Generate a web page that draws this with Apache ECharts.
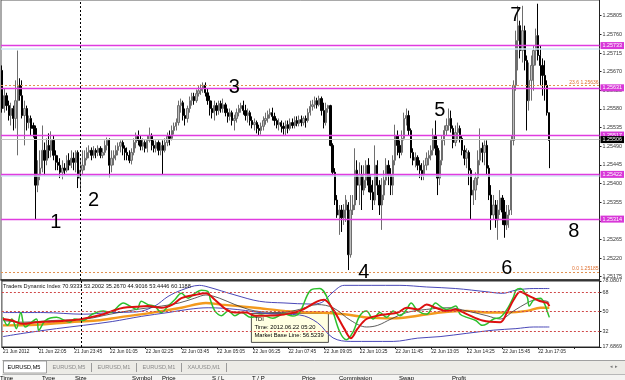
<!DOCTYPE html>
<html>
<head>
<meta charset="utf-8">
<script src="https://cdn.jsdelivr.net/npm/echarts@6/dist/echarts.min.js"></script>
<style>
  html, body { margin: 0; padding: 0; background: #fff; }
  #chart { width: 625px; height: 380px; }
</style>
</head>
<body>
<div id="chart"></div>
<script>
// EURUSD M5 bars, prices in points (1 point = 0.00001): [open, high, low, close]
var ohlc = [
  [125673,125685,125571,125581],[125581,125630,125571,125612],[125612,125619,125576,125588],[125588,125600,125552,125564],
  [125564,125595,125540,125581],[125581,125588,125528,125557],[125557,125649,125533,125600],[125600,125721,125468,125637],
  [125637,125654,125600,125612],[125612,125649,125557,125564],[125564,125600,125492,125581],[125581,125588,125528,125547],
  [125547,125564,125533,125557],[125557,125564,125516,125533],[125540,125547,125511,125533],[125533,125540,125312,125396],
  [125396,125456,125379,125420],[125420,125480,125408,125437],[125437,125540,125427,125480],[125480,125499,125420,125456],
  [125456,125509,125444,125492],[125492,125521,125461,125480],[125480,125526,125463,125504],[125504,125516,125456,125468],
  [125468,125480,125432,125451],[125451,125468,125432,125444],[125444,125461,125413,125427],[125427,125456,125410,125437],
  [125437,125449,125420,125432],[125432,125468,125427,125456],[125456,125473,125432,125444],[125444,125480,125437,125461],
  [125461,125475,125432,125451],[125451,125480,125427,125475],[125475,125480,125389,125413],[125413,125461,125384,125432],
  [125432,125480,125420,125444],[125444,125480,125432,125461],[125461,125487,125456,125475],[125475,125492,125461,125480],
  [125480,125487,125456,125468],[125468,125490,125461,125480],[125480,125485,125461,125475],[125475,125492,125466,125485],
  [125485,125490,125461,125468],[125468,125485,125461,125475],[125475,125504,125468,125492],[125492,125511,125480,125504],
  [125504,125509,125415,125444],[125444,125480,125427,125461],[125461,125480,125444,125468],[125468,125492,125456,125480],
  [125480,125499,125468,125490],[125490,125504,125475,125499],[125499,125504,125468,125485],[125485,125492,125456,125475],
  [125475,125487,125456,125468],[125468,125480,125449,125456],[125456,125485,125446,125475],[125475,125509,125468,125499],
  [125499,125523,125485,125514],[125514,125528,125492,125504],[125504,125516,125480,125490],[125490,125509,125480,125499],
  [125499,125504,125475,125485],[125485,125516,125475,125504],[125504,125535,125499,125516],[125516,125521,125480,125492],
  [125492,125504,125475,125485],[125485,125504,125475,125499],[125499,125504,125468,125480],[125480,125499,125468,125492],
  [125492,125504,125422,125480],[125480,125509,125475,125499],[125499,125523,125490,125514],[125514,125528,125492,125509],
  [125509,125540,125504,125528],[125528,125547,125518,125538],[125538,125557,125528,125547],[125547,125600,125540,125588],
  [125588,125605,125571,125595],[125595,125600,125552,125564],[125564,125581,125540,125557],[125557,125588,125547,125581],
  [125581,125610,125571,125600],[125600,125619,125588,125610],[125610,125619,125590,125600],[125600,125627,125595,125617],
  [125617,125635,125610,125624],[125624,125639,125614,125630],[125630,125644,125619,125637],[125637,125644,125610,125619],
  [125619,125630,125590,125600],[125600,125612,125564,125581],[125581,125600,125557,125571],[125571,125600,125552,125588],
  [125588,125595,125564,125576],[125576,125600,125566,125593],[125593,125600,125571,125581],[125581,125605,125571,125590],
  [125590,125595,125562,125571],[125571,125581,125547,125562],[125562,125581,125552,125571],[125571,125576,125540,125552],
  [125552,125566,125528,125557],[125557,125581,125547,125571],[125571,125590,125562,125581],[125581,125595,125571,125588],
  [125588,125600,125566,125576],[125576,125590,125552,125564],[125564,125581,125547,125571],[125571,125576,125540,125552],
  [125552,125562,125533,125542],[125542,125557,125528,125547],[125547,125552,125521,125533],[125533,125542,125516,125528],
  [125528,125547,125518,125538],[125538,125562,125528,125552],[125552,125571,125542,125557],[125557,125576,125547,125566],
  [125566,125581,125557,125571],[125571,125583,125552,125562],[125562,125571,125540,125552],[125552,125557,125533,125542],
  [125542,125557,125528,125547],[125547,125552,125523,125538],[125538,125547,125518,125533],[125533,125552,125516,125542],
  [125542,125552,125521,125533],[125533,125557,125528,125547],[125547,125557,125533,125540],[125540,125562,125533,125552],
  [125552,125562,125538,125545],[125545,125564,125538,125554],[125554,125564,125538,125547],[125547,125562,125540,125557],
  [125557,125564,125535,125552],[125552,125581,125547,125571],[125571,125600,125564,125586],[125586,125602,125576,125590],
  [125590,125610,125581,125600],[125600,125607,125581,125590],[125590,125612,125586,125605],[125605,125610,125564,125576],
  [125576,125595,125533,125547],[125547,125595,125540,125581],[125581,125590,125571,125588],[125588,125590,125490,125492],
  [125492,125497,125420,125427],[125427,125437,125348,125360],[125360,125372,125317,125324],[125324,125348,125276,125336],
  [125336,125348,125283,125317],[125317,125350,125300,125336],[125336,125372,125307,125360],[125348,125355,125191,125228],
  [125228,125372,125221,125336],[125336,125372,125324,125348],[125348,125485,125336,125432],[125432,125456,125360,125396],
  [125396,125451,125348,125420],[125420,125444,125336,125384],[125384,125444,125372,125408],[125408,125456,125389,125444],
  [125444,125461,125379,125396],[125396,125420,125360,125379],[125379,125408,125336,125360],[125360,125492,125348,125444],
  [125444,125456,125372,125396],[125396,125408,125324,125348],[125348,125413,125288,125372],[125372,125432,125360,125408],
  [125408,125461,125396,125444],[125444,125456,125396,125420],[125420,125437,125372,125396],[125396,125468,125372,125456],
  [125456,125542,125444,125516],[125516,125528,125468,125492],[125492,125504,125461,125475],[125475,125528,125468,125509],
  [125509,125571,125504,125557],[125557,125581,125540,125564],[125564,125576,125516,125528],[125528,125533,125461,125475],
  [125475,125485,125444,125456],[125456,125475,125439,125463],[125463,125468,125432,125444],[125444,125456,125413,125432],
  [125432,125449,125408,125420],[125420,125456,125408,125444],[125444,125475,125432,125461],[125461,125480,125444,125468],
  [125468,125492,125456,125480],[125480,125533,125468,125516],[125516,125552,125468,125485],[125485,125492,125372,125413],
  [125413,125480,125396,125456],[125456,125516,125444,125504],[125504,125540,125492,125528],[125528,125557,125516,125540],
  [125540,125581,125528,125557],[125557,125576,125523,125533],[125533,125540,125485,125499],[125499,125540,125490,125523],
  [125523,125547,125504,125533],[125533,125540,125499,125509],[125509,125516,125468,125480],[125480,125492,125444,125461],
  [125461,125485,125437,125475],[125475,125480,125396,125432],[125432,125437,125312,125372],[125372,125408,125348,125384],
  [125384,125427,125360,125413],[125413,125480,125396,125456],[125456,125533,125444,125485],[125485,125499,125451,125475],
  [125475,125504,125444,125492],[125492,125504,125420,125437],[125437,125444,125360,125372],[125372,125396,125288,125324],
  [125324,125372,125312,125348],[125348,125360,125293,125312],[125312,125360,125264,125336],[125336,125384,125324,125365],
  [125365,125372,125300,125331],[125331,125360,125269,125300],[125300,125348,125288,125324],[125324,125348,125293,125336],
  [125336,125516,125324,125504],[125504,125649,125492,125637],[125637,125769,125624,125745],[125745,125829,125673,125781],
  [125781,125793,125702,125721],[125721,125829,125692,125769],[125769,125781,125673,125697],[125697,125709,125528,125600],
  [125600,125692,125576,125649],[125649,125709,125600,125685],[125685,125733,125624,125721],[125721,125774,125685,125757],
  [125757,125834,125697,125709],[125709,125733,125637,125685],[125685,125702,125612,125661],[125661,125697,125600,125637],
  [125637,125649,125564,125571],[125571,125571,125437,125504]
];
var barSlots = 268;

var timeLabels = ['21 Jun 2012', '21 Jun 22:05', '21 Jun 23:45', '22 Jun 01:05', '22 Jun 02:25', '22 Jun 03:45',
  '22 Jun 05:05', '22 Jun 06:25', '22 Jun 07:45', '22 Jun 09:05', '22 Jun 10:25', '22 Jun 11:45',
  '22 Jun 13:05', '22 Jun 14:25', '22 Jun 15:45', '22 Jun 17:05'];
var priceTicks = [125805, 125760, 125715, 125670, 125625, 125580, 125535, 125490, 125445, 125400,
  125355, 125310, 125265, 125220, 125175];
var levelLines = [125733, 125631, 125517, 125422, 125314];
var blueLines = [125726, 125418];
var fibLines = [[125636, '23.6 1.25636'], [125185, '0.0 1.25185']];
var bidPrice = 125506;
var daySeparator = 35;
var waveMarks = [['1', 24, 125307], ['2', 41, 125360], ['3', 104, 125632], ['4', 162, 125184],
  ['5', 196, 125576], ['6', 226, 125196], ['7', 230, 125805], ['8', 256, 125283]];

// Traders Dynamic Index, [bar, value]
var tdiGreen = [[0,44.8],[2,37.5],[4,43.3],[6,34.5],[8,49.2],[10,36.0],[15,43.3],[16,33.1],[19,41.9],[24,44.8],
  [30,40.4],[32,43.3],[36,41.9],[40,47.7],[45,50.7],[48,49.2],[54,58.0],[57,55.1],[60,52.1],[62,59.5],[65,56.5],
  [68,55.1],[71,49.2],[74,55.1],[77,60.9],[80,66.8],[83,62.4],[86,66.8],[89,69.7],[92,68.2],[93,60.9],[95,50.7],
  [98,46.3],[101,50.7],[104,46.3],[107,49.2],[111,44.8],[116,47.0],[121,44.0],[126,48.0],[130,46.0],[133,49.2],
  [138,69.7],[142,71.2],[147,55.1],[151,31.6],[154,24.3],[157,31.6],[160,46.3],[163,50.7],[166,43.3],[169,49.2],
  [172,44.8],[175,50.7],[178,46.3],[181,52.1],[183,58.0],[186,50.7],[190,47.7],[194,58.0],[196,55.1],[199,52.1],
  [203,55.1],[205,47.7],[208,44.8],[212,41.9],[215,37.5],[217,38.9],[220,43.3],[223,44.8],[226,52.1],[229,63.9],
  [230,69.7],[232,71.2],[235,63.9],[236,55.1],[238,60.9],[241,62.4],[243,56.5],[244,50.7],[245,44.8]];
var tdiRed = [[0,43.3],[4,41.9],[9,38.9],[15,40.4],[22,41.0],[33,42.7],[39,44.8],[45,47.7],[49,50.7],[54,53.6],
  [60,54.5],[65,55.1],[71,53.6],[76,56.5],[80,62.4],[86,65.3],[91,66.8],[95,60.9],[100,52.1],[104,49.2],[109,49.2],
  [113,46.3],[120,46.5],[126,47.5],[133,50.7],[141,59.5],[144,60.9],[148,52.1],[153,34.5],[156,25.8],[159,34.5],
  [163,43.3],[168,46.3],[172,47.7],[177,49.2],[181,53.6],[186,52.1],[190,56.5],[194,53.6],[199,50.7],[203,52.1],
  [208,47.7],[215,41.9],[223,40.4],[226,49.2],[229,60.9],[232,68.2],[235,65.3],[238,62.4],[241,59.5],[244,58.0],[245,55.1]];
var tdiSignal = [[0,41.9],[9,40.4],[22,41.9],[37,43.3],[48,47.7],[60,52.1],[71,55.1],[79,58.0],[86,62.4],[91,65.3],
  [97,62.4],[104,56.5],[113,50.7],[125,49.2],[133,52.1],[141,56.5],[148,53.6],[156,41.9],[163,36.0],[168,37.5],
  [174,43.3],[181,49.2],[190,52.1],[200,53.6],[208,50.7],[217,46.3],[223,43.3],[229,50.7],[235,58.0],[239,60.9],
  [244,59.5],[245,58.0]];
var tdiBase = [[0,37.5],[15,38.1],[30,40.4],[42,41.9],[52,44.8],[67,49.2],[80,53.6],[91,58.0],[98,56.5],[113,53.6],
  [126,50.7],[138,49.2],[141,49.2],[153,47.7],[163,44.8],[175,43.9],[186,46.3],[196,49.2],[208,50.7],[217,49.2],
  [226,49.2],[235,50.7],[241,53.6],[245,53.6]];
var tdiUpper = [[0,49.2],[18,49.2],[36,47.7],[48,49.2],[60,49.8],[68,55.1],[74,63.9],[80,69.7],[88,74.1],[92,72.6],
  [104,65.3],[115,59.5],[126,58.0],[138,57.0],[143,58.5],[148,68.0],[153,74.1],[178,74.1],[190,72.6],[203,71.2],
  [217,68.2],[224,66.8],[230,69.7],[238,71.2],[245,71.2]];
var tdiLower = [[0,27.2],[9,30.2],[24,34.5],[36,37.5],[49,41.0],[62,45.7],[74,49.2],[83,52.1],[92,53.6],[105,52.0],
  [120,48.0],[133,47.0],[141,40.0],[148,26.0],[156,22.8],[175,22.8],[186,25.8],[196,27.2],[208,30.2],[220,33.1],
  [230,34.5],[238,36.0],[245,36.0]];
var tdiLevels = [68, 50, 32];
var tdiTicks = [78.0807, 68, 50, 32, 17.6869];
var tdiTitle = 'Traders Dynamic Index 70.9333 53.2002 35.2670 44.9016 53.4446 60.1188';

var FONT = 'Liberation Sans';
var pt = function (v) { return v / 100000; };
var slots = [];
for (var i = 0; i < barSlots; i++) slots.push(String(i));

// echarts candlestick wants [open, close, low, high]
var candles = ohlc.map(function (r) { return [pt(r[0]), pt(r[3]), pt(r[2]), pt(r[1])]; });

function boxLabel(text, bg) {
  return { show: true, position: 'end', distance: 1, formatter: text, color: '#fff',
    backgroundColor: bg, padding: [1, 2], fontSize: 5.4, fontFamily: FONT };
}

// one empty helper series per kind of chart object, so every object group keeps its own colour
function objectSeries(name, items, lineStyle, z) {
  return {
    name: name, type: 'line', xAxisIndex: 0, yAxisIndex: 0, data: [], silent: true, z: z,
    markLine: { symbol: 'none', silent: true, animation: false, precision: 6,
      lineStyle: lineStyle, label: { show: false }, data: items }
  };
}

var chart = echarts.init(document.getElementById('chart'), null, { renderer: 'canvas' });

function tdiLine(name, data, color, width, extra) {
  var s = {
    name: name, type: 'line', xAxisIndex: 1, yAxisIndex: 1, data: data, showSymbol: false,
    smooth: 0.35, lineStyle: { color: color, width: width }, silent: true, animation: false, z: 3
  };
  for (var k in extra) s[k] = extra[k];
  return s;
}

chart.setOption({
  animation: false,
  backgroundColor: '#fff',
  textStyle: { fontFamily: FONT },
  grid: [
    { left: 1, right: 24, top: -1, height: 281, show: true, borderColor: '#555', borderWidth: 1 },
    { left: 1, right: 24, top: 281, height: 66, show: true, borderColor: '#333', borderWidth: 1 }
  ],
  xAxis: [
    { type: 'category', gridIndex: 0, data: slots, boundaryGap: true,
      axisLine: { show: true, lineStyle: { color: '#222', width: 1.5 } },
      axisTick: { show: false }, axisLabel: { show: false }, splitLine: { show: false } },
    { type: 'category', gridIndex: 1, data: slots, boundaryGap: true,
      axisLine: { show: true, lineStyle: { color: '#222' } },
      axisTick: { show: true, interval: 15, alignWithLabel: true, length: 2, lineStyle: { color: '#222' } },
      axisLabel: { show: true, interval: 15, align: 'left', margin: 2, fontSize: 4.8, color: '#222',
        fontFamily: FONT, formatter: function (v, idx) { return timeLabels[idx / 16] || ''; } },
      splitLine: { show: false } }
  ],
  yAxis: [
    { type: 'value', gridIndex: 0, position: 'right', min: 1.25167, max: 1.25843, scale: true,
      axisLine: { show: true, lineStyle: { color: '#222' } },
      axisTick: { show: true, length: 2, customValues: priceTicks.map(pt), lineStyle: { color: '#222' } },
      axisLabel: { show: true, customValues: priceTicks.map(pt), margin: 3, fontSize: 5.4, color: '#333',
        fontFamily: FONT, formatter: function (v) { return v.toFixed(5); } },
      splitLine: { show: false } },
    { type: 'value', gridIndex: 1, position: 'right', min: 17.6869, max: 78.0807,
      axisLine: { show: true, lineStyle: { color: '#222' } },
      axisTick: { show: true, length: 2, customValues: tdiTicks, lineStyle: { color: '#222' } },
      axisLabel: { show: true, customValues: tdiTicks, margin: 3, fontSize: 5.4, color: '#333', fontFamily: FONT,
        formatter: function (v) { return Number.isInteger(v) ? String(v) : v.toFixed(4); } },
      splitLine: { show: false } }
  ],
  series: [
    objectSeries('Channel', blueLines.map(function (v) { return { yAxis: pt(v) }; }),
      { color: '#cfe6f4', width: 1.5, type: 'solid' }, 1),
    objectSeries('Levels', levelLines.map(function (v) {
      return { yAxis: pt(v), label: boxLabel(pt(v).toFixed(5), '#d838d8') };
    }), { color: '#e03ce0', width: 1.4, type: 'solid' }, 2),
    objectSeries('Fibo', fibLines.map(function (f) {
      return { yAxis: pt(f[0]), label: { show: true, position: 'insideEndTop', distance: 1, formatter: f[1],
        color: '#e07030', fontSize: 5, fontFamily: FONT } };
    }), { color: '#e09050', width: 1, type: [2, 2] }, 2),
    objectSeries('Bid', [{ yAxis: pt(bidPrice), label: boxLabel(pt(bidPrice).toFixed(5), '#000') }],
      { color: '#c4c4c4', width: 1, type: 'solid' }, 2),
    objectSeries('Separator', [{ xAxis: daySeparator }], { color: '#000', width: 1, type: [2, 2] }, 2),
    {
      name: 'EURUSD,M5', type: 'candlestick', xAxisIndex: 0, yAxisIndex: 0, data: candles,
      barWidth: 1.8, silent: true, z: 3,
      itemStyle: { color: '#bcbcbc', color0: '#000', borderColor: '#6e6e6e', borderColor0: '#000', borderWidth: 1 },
      markPoint: {
        silent: true, animation: false, symbol: 'circle', symbolSize: 0,
        data: waveMarks.map(function (m) {
          return { coord: [m[1], pt(m[2])], value: m[0],
            label: { show: true, position: 'inside', formatter: m[0], fontSize: 20, color: '#000', fontFamily: FONT } };
        })
      }
    },
    tdiLine('Volatility Band High', tdiUpper, '#4a48b8', 1, {
      markLine: { symbol: 'none', silent: true, animation: false,
        data: tdiLevels.map(function (v) { return { yAxis: v }; }).concat([{ xAxis: daySeparator, lineStyle: { color: '#000', type: [2, 2], width: 1 } }]),
        lineStyle: { color: '#d04848', width: 1, type: [2, 2] }, label: { show: false } }
    }),
    tdiLine('Volatility Band Low', tdiLower, '#4a48b8', 1, {}),
    tdiLine('Market Base Line', tdiBase, '#f39a1e', 2.4, {}),
    tdiLine('Trade Signal Line', tdiSignal, '#333333', 0.8, {}),
    tdiLine('RSI Price Line', tdiGreen, '#2dc02d', 1.5, {}),
    tdiLine('Trade Signal', tdiRed, '#dd1010', 2, {})
  ],
  graphic: [
    { type: 'text', left: 3, top: 283, z: 10, silent: true,
      style: { text: tdiTitle, fontSize: 5.6, fontFamily: FONT, fill: '#111' } },
    { type: 'group', left: 251, top: 313, z: 20, silent: true, children: [
      { type: 'rect', shape: { x: 0, y: 0, width: 77, height: 29 }, style: { fill: '#ffffe1', stroke: '#222', lineWidth: 0.8 } },
      { type: 'text', x: 3, y: 3, style: { text: 'TDI', fontSize: 5.8, fontFamily: FONT, fill: '#000' } },
      { type: 'text', x: 3, y: 11, style: { text: 'Time: 2012.06.22 05:20', fontSize: 5.8, fontFamily: FONT, fill: '#000' } },
      { type: 'text', x: 3, y: 19, style: { text: 'Market Base Line: 56.5239', fontSize: 5.8, fontFamily: FONT, fill: '#000' } }
    ] },
    { type: 'group', left: 0, top: 358, z: 10, silent: true, children: [
      { type: 'rect', shape: { x: 0, y: 0, width: 625, height: 22 }, style: { fill: '#ecebe6' } },
      { type: 'line', shape: { x1: 0, y1: 0.5, x2: 625, y2: 0.5 }, style: { stroke: '#a0a0a0', lineWidth: 1 } },
      { type: 'rect', shape: { x: 1, y: 1, width: 43, height: 12 }, style: { fill: '#fff', stroke: '#8a8a8a', lineWidth: 0.8 } },
      { type: 'text', x: 5, y: 4, style: { text: 'EURUSD,M5', fontSize: 5.6, fontFamily: FONT, fill: '#000' } },
      { type: 'text', x: 50, y: 4, style: { text: 'EURUSD,M5', fontSize: 5.6, fontFamily: FONT, fill: '#8a8a8a' } },
      { type: 'line', shape: { x1: 89, y1: 3, x2: 89, y2: 12 }, style: { stroke: '#9a9a9a' } },
      { type: 'text', x: 95, y: 4, style: { text: 'EURUSD,M1', fontSize: 5.6, fontFamily: FONT, fill: '#8a8a8a' } },
      { type: 'line', shape: { x1: 134, y1: 3, x2: 134, y2: 12 }, style: { stroke: '#9a9a9a' } },
      { type: 'text', x: 140, y: 4, style: { text: 'EURUSD,M1', fontSize: 5.6, fontFamily: FONT, fill: '#8a8a8a' } },
      { type: 'line', shape: { x1: 179, y1: 3, x2: 179, y2: 12 }, style: { stroke: '#9a9a9a' } },
      { type: 'text', x: 185, y: 4, style: { text: 'XAUUSD,M1', fontSize: 5.6, fontFamily: FONT, fill: '#8a8a8a' } },
      { type: 'line', shape: { x1: 224, y1: 3, x2: 224, y2: 12 }, style: { stroke: '#9a9a9a' } },
      { type: 'text', x: 607, y: 4, style: { text: '\u25C2  \u25B8', fontSize: 5, fontFamily: FONT, fill: '#777' } },
      { type: 'line', shape: { x1: 0, y1: 14.5, x2: 625, y2: 14.5 }, style: { stroke: '#b8b8b8' } },
      { type: 'rect', shape: { x: 0, y: 15, width: 625, height: 7 }, style: { fill: '#f4f4f2' } }
    ] },
    { type: 'group', left: 0, top: 375, z: 11, silent: true, children: [
      { type: 'text', x: 138, y: 1, style: { text: 'Time', fontSize: 6, fontFamily: FONT, fill: '#000' } },
      { type: 'text', x: 180, y: 1, style: { text: 'Type', fontSize: 6, fontFamily: FONT, fill: '#000' } },
      { type: 'text', x: 213, y: 1, style: { text: 'Size', fontSize: 6, fontFamily: FONT, fill: '#000' } },
      { type: 'text', x: 270, y: 1, style: { text: 'Symbol', fontSize: 6, fontFamily: FONT, fill: '#000' } },
      { type: 'text', x: 300, y: 1, style: { text: 'Price', fontSize: 6, fontFamily: FONT, fill: '#000' } },
      { type: 'text', x: 350, y: 1, style: { text: 'S / L', fontSize: 6, fontFamily: FONT, fill: '#000' } },
      { type: 'text', x: 390, y: 1, style: { text: 'T / P', fontSize: 6, fontFamily: FONT, fill: '#000' } },
      { type: 'text', x: 440, y: 1, style: { text: 'Price', fontSize: 6, fontFamily: FONT, fill: '#000' } },
      { type: 'text', x: 477, y: 1, style: { text: 'Commission', fontSize: 6, fontFamily: FONT, fill: '#000' } },
      { type: 'text', x: 537, y: 1, style: { text: 'Swap', fontSize: 6, fontFamily: FONT, fill: '#000' } },
      { type: 'text', x: 590, y: 1, style: { text: 'Profit', fontSize: 6, fontFamily: FONT, fill: '#000' } }
    ] }
  ]
});
</script>
</body>
</html>
